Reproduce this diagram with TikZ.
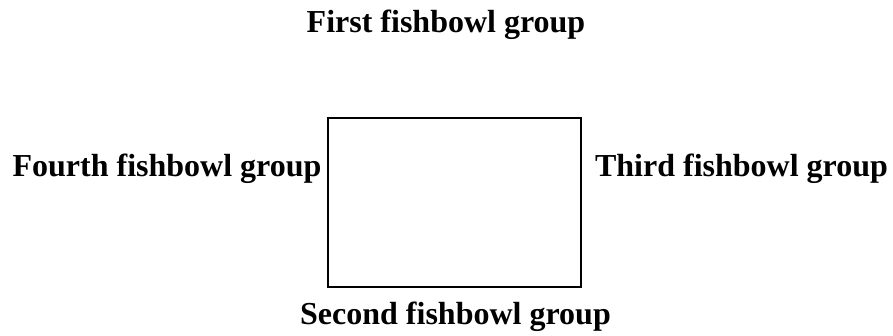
\documentclass[tikz,border=0pt]{standalone}
\usepackage{fontspec}
\setmainfont{Liberation Serif}
\begin{document}
\begin{tikzpicture}[x=1pt,y=1pt,
  lbl/.style={font=\fontsize{32}{38}\selectfont\bfseries, inner sep=0pt, anchor=base}]
\useasboundingbox (0,0) rectangle (893,336);
\node[draw, line width=1.5pt, minimum width=253pt, minimum height=169pt, inner sep=0pt] (box) at (454.5,133.5) {};
\node[lbl] (first) at (446,303) {First fishbowl group};
\node[lbl] (second) at (455.5,11) {Second fishbowl group};
\node[lbl] (third) at (741.5,159) {Third fishbowl group};
\node[lbl] (fourth) at (167,159) {Fourth fishbowl group};
\end{tikzpicture}
\end{document}
